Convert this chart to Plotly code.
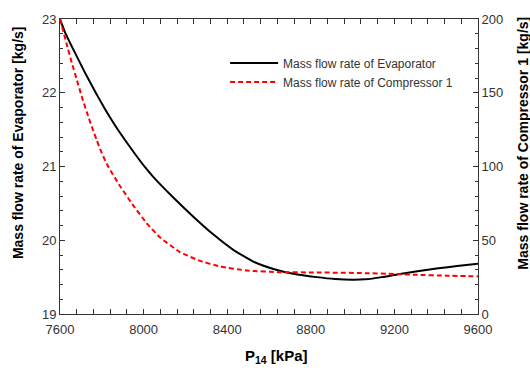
import plotly.graph_objects as go

# Black curve: mass flow rate of evaporator (left axis, kg/s)
p_evap = [7600, 7624, 7672, 7720, 7767, 7815, 7863, 7911, 7959, 8007, 8046, 8142, 8238, 8333,
          8429, 8525, 8621, 8716, 8828, 8916, 9000, 9060, 9140, 9219, 9310, 9410, 9500, 9600]
m_evap = [23.0, 22.82, 22.54, 22.27, 22.02, 21.78, 21.56, 21.36, 21.17, 20.99, 20.86, 20.58, 20.32, 20.08,
          19.87, 19.71, 19.61, 19.545, 19.50, 19.475, 19.465, 19.47, 19.50, 19.54, 19.58, 19.62, 19.65, 19.68]

# Red dashed curve: mass flow rate of compressor 1 (right axis, kg/s)
p_comp = [7600, 7632, 7656, 7680, 7704, 7728, 7752, 7776, 7800, 7831, 7887, 7951, 8015, 8078,
          8174, 8270, 8366, 8493, 8653, 8828, 9060, 9200, 9300, 9450, 9600]
m_comp = [200.0, 183.0, 170.5, 159.0, 147.5, 137.0, 127.0, 117.8, 109.0, 99.8, 86.8, 73.5, 61.5, 52.0,
          42.0, 36.0, 32.2, 29.5, 28.3, 28.2, 27.7, 27.1, 26.6, 26.0, 25.5]

x_ticks = [7600, 8000, 8400, 8800, 9200, 9600]

font_family = "Liberation Sans, Arial, sans-serif"
axis_col = "#333333"

fig = go.Figure()
fig.add_trace(go.Scatter(x=p_evap, y=m_evap, mode="lines", name="Mass flow rate of Evaporator",
                         line=dict(color="black", width=2, shape="spline", smoothing=0.4)))
fig.add_trace(go.Scatter(x=p_comp, y=m_comp, mode="lines", name="Mass flow rate of Compressor 1",
                         yaxis="y2",
                         line=dict(color="#ff0000", width=2, dash="5px,3px", shape="spline", smoothing=0.4)))

fig.update_layout(
    width=530, height=372,
    margin=dict(l=60, r=52, t=16, b=58),
    paper_bgcolor="white", plot_bgcolor="white",
    font=dict(family=font_family, size=13, color=axis_col),
    showlegend=True,
    legend=dict(x=0.395, y=0.9, xanchor="left", yanchor="top",
                bgcolor="rgba(0,0,0,0)", font=dict(size=12, color=axis_col),
                itemwidth=48, tracegroupgap=0),
    xaxis=dict(range=[7600, 9600], tickvals=x_ticks, showgrid=False, zeroline=False,
               showline=True, linecolor=axis_col, linewidth=1, mirror="allticks",
               ticks="inside", ticklen=5, tickcolor=axis_col, ticklabelstandoff=3,
               minor=dict(dtick=80, ticks="inside", ticklen=3, tickcolor=axis_col)),
    yaxis=dict(range=[19, 23], dtick=1, showgrid=False, zeroline=False,
               showline=True, linecolor=axis_col, linewidth=1,
               ticks="inside", ticklen=5, tickcolor=axis_col,
               minor=dict(dtick=0.2, ticks="inside", ticklen=3, tickcolor=axis_col)),
    yaxis2=dict(range=[0, 200], dtick=50, overlaying="y", side="right", showgrid=False, zeroline=False,
                showline=True, linecolor=axis_col, linewidth=1,
                ticks="inside", ticklen=5, tickcolor=axis_col,
                minor=dict(dtick=10, ticks="inside", ticklen=3, tickcolor=axis_col)),
)

# Axis titles as annotations (positioned like the reference)
fig.add_annotation(text="<b>P<sub>14</sub> [kPa]</b>", xref="paper", yref="paper",
                   x=0.517, y=-0.145, xanchor="center", yanchor="middle", showarrow=False,
                   font=dict(size=15, color="black"))
fig.add_annotation(text="<b>Mass flow rate of Evaporator [kg/s]</b>", xref="paper", yref="paper",
                   x=-0.1, y=0.58, xanchor="center", yanchor="middle", showarrow=False, textangle=-90,
                   font=dict(size=14, color="black"))
fig.add_annotation(text="<b>Mass flow rate of Compressor 1 [kg/s]</b>", xref="paper", yref="paper",
                   x=1.107, y=0.58, xanchor="center", yanchor="middle", showarrow=False, textangle=-90,
                   font=dict(size=14, color="black"))

fig.write_html("out.html")
